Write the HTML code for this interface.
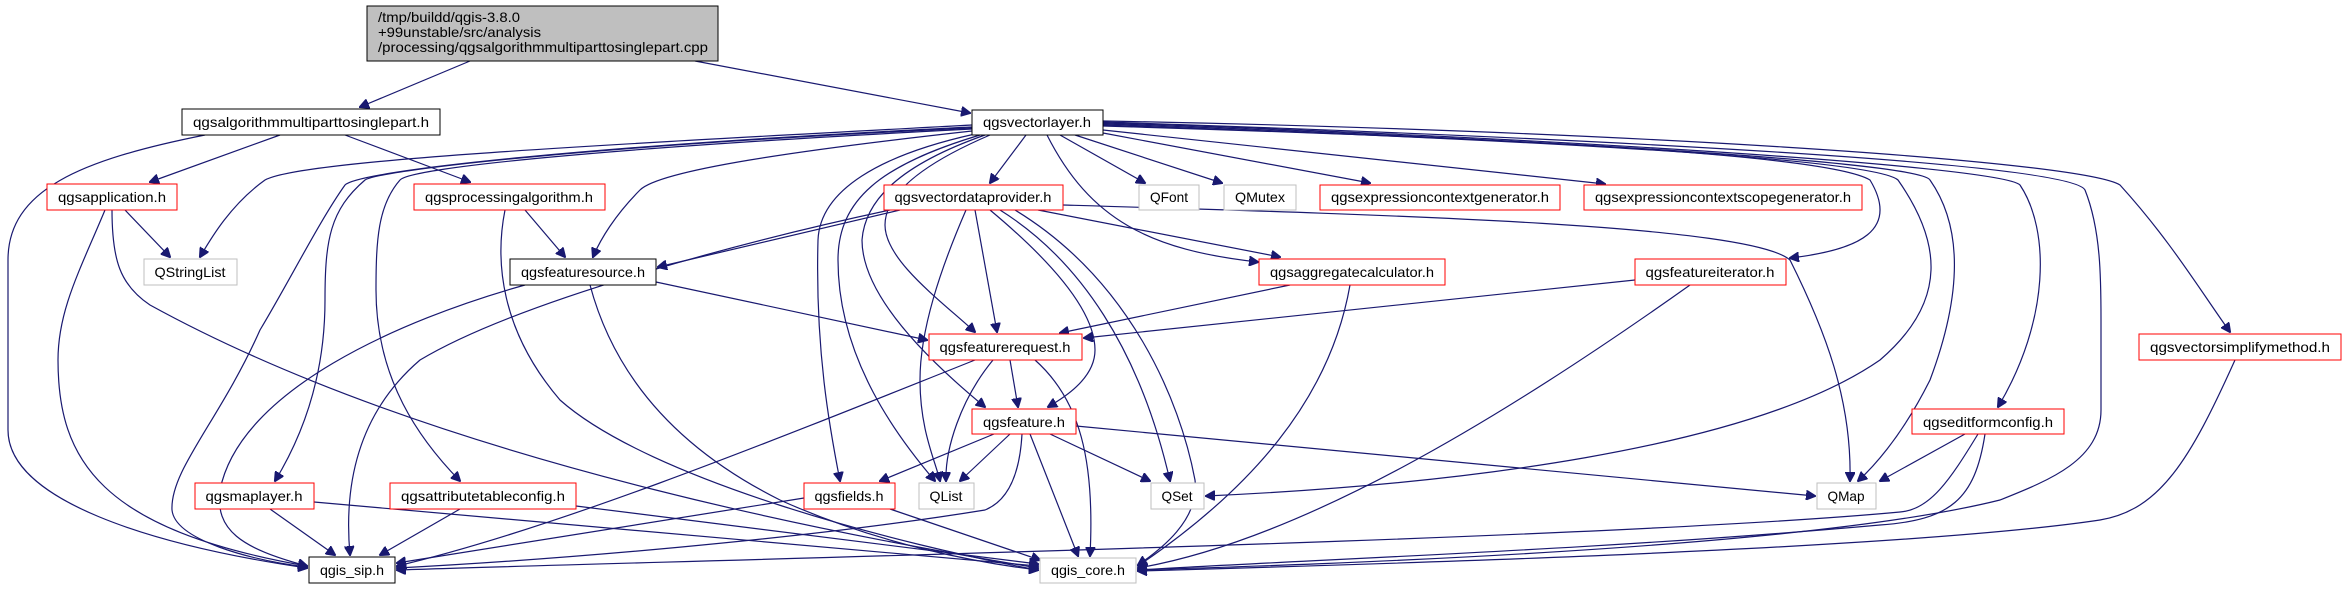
<!DOCTYPE html>
<html><head><meta charset="utf-8"><style>
html,body{margin:0;padding:0;background:#fff;}
svg{display:block}
text{font-family:"Liberation Sans",sans-serif;font-size:14px;fill:#000}
path{fill:none;stroke:#191970;stroke-width:1.2}
</style></head><body>
<svg width="2346" height="589" viewBox="0 0 2346 589" xmlns="http://www.w3.org/2000/svg">
<defs><marker id="a" viewBox="0 0 10 10" refX="9" refY="5" markerWidth="10" markerHeight="10" markerUnits="userSpaceOnUse" orient="auto"><path d="M0,0 L10,5 L0,10 z" style="fill:#191970;stroke:#191970"/></marker></defs>
<g marker-end="url(#a)">
<path d="M470,61 L360,107"/>
<path d="M695,61 L970,113"/>
<path d="M205,135 C80,160 8,190 8,260 L8,430 C8,500 150,545 307,568"/>
<path d="M280,135 L150,182"/>
<path d="M345,135 L470,182"/>
<path d="M125,210 L170,257"/>
<path d="M105,210 C80,270 58,310 58,360 C58,460 100,530 307,566"/>
<path d="M112,210 C112,260 120,285 150,305 C450,470 900,545 1038,568"/>
<path d="M525,210 L565,257"/>
<path d="M505,210 C495,260 500,330 560,400 C650,480 900,545 1038,570"/>
<path d="M525,285 C400,320 240,390 220,490 C215,530 240,548 307,566"/>
<path d="M590,285 C610,360 660,440 780,500 C880,545 980,563 1038,570"/>
<path d="M656,282 L927,340"/>
<path d="M972,125 C600,145 300,160 265,180 C230,205 210,240 200,257"/>
<path d="M972,127 C600,145 360,170 345,185 C320,220 290,280 260,330 C220,420 170,470 172,510 C175,540 250,560 307,567"/>
<path d="M972,128 C600,145 380,170 365,180 C330,210 325,240 325,300 C325,380 300,440 275,481"/>
<path d="M972,129 C600,148 410,168 400,180 C378,205 376,240 376,290 C376,380 420,440 460,481"/>
<path d="M972,131 C800,150 660,170 640,190 C615,215 600,240 593,257"/>
<path d="M975,134 C880,155 820,190 818,240 C815,350 830,430 840,481"/>
<path d="M980,135 C880,165 838,200 838,260 C838,360 900,440 935,481"/>
<path d="M985,135 C900,165 865,200 862,240 C862,300 940,370 985,407"/>
<path d="M990,135 C920,165 885,195 885,225 C885,260 940,300 975,332"/>
<path d="M1026,135 L990,183"/>
<path d="M1047,135 C1090,220 1150,250 1258,262"/>
<path d="M1060,135 L1145,183"/>
<path d="M1075,135 L1222,183"/>
<path d="M1103,133 L1370,183"/>
<path d="M1103,130 L1605,184"/>
<path d="M1103,126 C1400,135 1820,150 1870,180 C1900,230 1860,250 1790,258"/>
<path d="M1103,125 C1400,135 1870,155 1898,180 C1940,240 1950,300 1880,360 C1750,450 1450,485 1206,496"/>
<path d="M1103,124 C1450,135 1920,160 1930,180 C1965,230 1960,300 1930,380 C1900,440 1870,470 1858,481"/>
<path d="M1103,123 C1500,135 2000,165 2020,185 C2050,230 2050,320 1998,407"/>
<path d="M1103,122 C1500,135 2070,160 2085,190 C2101,230 2101,280 2101,320 L2101,410 C2101,460 2050,480 2000,500 C1800,550 1300,565 1138,570"/>
<path d="M1103,121 C1600,130 2080,160 2120,185 C2170,240 2200,290 2230,332"/>
<path d="M900,210 L658,267"/>
<path d="M890,210 C750,240 520,300 420,360 C350,420 345,500 350,555"/>
<path d="M966,210 C940,270 920,330 920,380 C920,430 935,460 940,481"/>
<path d="M975,210 L997,332"/>
<path d="M990,210 C1050,260 1095,310 1095,350 C1095,380 1060,400 1048,407"/>
<path d="M1000,210 C1080,260 1140,350 1170,481"/>
<path d="M1015,210 C1130,280 1180,400 1195,480 C1200,520 1160,550 1138,565"/>
<path d="M1038,210 L1280,257"/>
<path d="M1063,205 C1400,215 1750,225 1790,260 C1825,330 1852,400 1850,481"/>
<path d="M1290,285 L1060,333"/>
<path d="M1350,285 C1330,400 1250,490 1138,566"/>
<path d="M1635,280 L1084,338"/>
<path d="M1690,285 C1500,420 1300,540 1138,568"/>
<path d="M1010,360 L1018,407"/>
<path d="M993,360 C960,400 945,450 946,481"/>
<path d="M1035,360 C1080,400 1095,460 1090,556"/>
<path d="M975,360 C750,450 550,530 397,566"/>
<path d="M994,434 L880,481"/>
<path d="M1010,434 L960,481"/>
<path d="M1050,434 L1150,481"/>
<path d="M1076,426 L1815,496"/>
<path d="M1030,434 L1078,556"/>
<path d="M1022,434 C1020,470 1010,500 985,510 C800,540 550,560 397,568"/>
<path d="M804,498 L397,563"/>
<path d="M890,509 L1040,560"/>
<path d="M270,509 L335,555"/>
<path d="M314,502 L1038,566"/>
<path d="M460,509 L380,555"/>
<path d="M576,506 L1038,564"/>
<path d="M1965,434 L1880,481"/>
<path d="M1978,434 C1950,480 1930,510 1900,512 C1600,540 700,560 397,570"/>
<path d="M1985,434 C1975,500 1950,520 1880,525 C1600,550 1300,560 1138,570"/>
<path d="M2235,360 C2190,460 2160,510 2100,520 C1900,550 1350,565 1138,571"/>
</g>
<g>
<rect x="367" y="6" width="351" height="55" fill="#bfbfbf" stroke="#000"/>
<text x="378" y="22" textLength="142" lengthAdjust="spacingAndGlyphs">/tmp/buildd/qgis-3.8.0</text>
<text x="378" y="37" textLength="163" lengthAdjust="spacingAndGlyphs">+99unstable/src/analysis</text>
<text x="378" y="52" textLength="330" lengthAdjust="spacingAndGlyphs">/processing/qgsalgorithmmultiparttosinglepart.cpp</text>
</g>
<g fill="#fff" stroke-width="1">
<rect x="182" y="109" width="258" height="26" stroke="#000"/>
<rect x="972" y="110" width="131" height="25" stroke="#000"/>
<rect x="47" y="184" width="130" height="26" stroke="#f00"/>
<rect x="414" y="184" width="191" height="26" stroke="#f00"/>
<rect x="144" y="259" width="93" height="26" stroke="#bfbfbf"/>
<rect x="510" y="259" width="146" height="26" stroke="#000"/>
<rect x="884" y="185" width="179" height="25" stroke="#f00"/>
<rect x="1139" y="185" width="60" height="25" stroke="#bfbfbf"/>
<rect x="1224" y="185" width="72" height="25" stroke="#bfbfbf"/>
<rect x="1320" y="185" width="240" height="25" stroke="#f00"/>
<rect x="1584" y="185" width="278" height="25" stroke="#f00"/>
<rect x="1259" y="259" width="186" height="26" stroke="#f00"/>
<rect x="1635" y="259" width="151" height="26" stroke="#f00"/>
<rect x="929" y="334" width="153" height="26" stroke="#f00"/>
<rect x="2139" y="334" width="202" height="26" stroke="#f00"/>
<rect x="972" y="409" width="104" height="25" stroke="#f00"/>
<rect x="1912" y="409" width="152" height="25" stroke="#f00"/>
<rect x="195" y="483" width="119" height="26" stroke="#f00"/>
<rect x="390" y="483" width="186" height="26" stroke="#f00"/>
<rect x="804" y="483" width="91" height="26" stroke="#f00"/>
<rect x="919" y="483" width="55" height="26" stroke="#bfbfbf"/>
<rect x="1151" y="483" width="53" height="26" stroke="#bfbfbf"/>
<rect x="1817" y="483" width="59" height="26" stroke="#bfbfbf"/>
<rect x="309" y="557" width="86" height="26" stroke="#000"/>
<rect x="1040" y="558" width="96" height="25" stroke="#bfbfbf"/>
</g>
<g text-anchor="middle">
<text x="311" y="127" textLength="236" lengthAdjust="spacingAndGlyphs">qgsalgorithmmultiparttosinglepart.h</text>
<text x="1037" y="127" textLength="108" lengthAdjust="spacingAndGlyphs">qgsvectorlayer.h</text>
<text x="112" y="202" textLength="108" lengthAdjust="spacingAndGlyphs">qgsapplication.h</text>
<text x="509" y="202" textLength="168" lengthAdjust="spacingAndGlyphs">qgsprocessingalgorithm.h</text>
<text x="190" y="277" textLength="71" lengthAdjust="spacingAndGlyphs">QStringList</text>
<text x="583" y="277" textLength="124" lengthAdjust="spacingAndGlyphs">qgsfeaturesource.h</text>
<text x="973" y="202" textLength="157" lengthAdjust="spacingAndGlyphs">qgsvectordataprovider.h</text>
<text x="1169" y="202" textLength="38" lengthAdjust="spacingAndGlyphs">QFont</text>
<text x="1260" y="202" textLength="50" lengthAdjust="spacingAndGlyphs">QMutex</text>
<text x="1440" y="202" textLength="218" lengthAdjust="spacingAndGlyphs">qgsexpressioncontextgenerator.h</text>
<text x="1723" y="202" textLength="256" lengthAdjust="spacingAndGlyphs">qgsexpressioncontextscopegenerator.h</text>
<text x="1352" y="277" textLength="164" lengthAdjust="spacingAndGlyphs">qgsaggregatecalculator.h</text>
<text x="1710" y="277" textLength="129" lengthAdjust="spacingAndGlyphs">qgsfeatureiterator.h</text>
<text x="1005" y="352" textLength="131" lengthAdjust="spacingAndGlyphs">qgsfeaturerequest.h</text>
<text x="2240" y="352" textLength="180" lengthAdjust="spacingAndGlyphs">qgsvectorsimplifymethod.h</text>
<text x="1024" y="427" textLength="82" lengthAdjust="spacingAndGlyphs">qgsfeature.h</text>
<text x="1988" y="427" textLength="130" lengthAdjust="spacingAndGlyphs">qgseditformconfig.h</text>
<text x="254" y="501" textLength="97" lengthAdjust="spacingAndGlyphs">qgsmaplayer.h</text>
<text x="483" y="501" textLength="164" lengthAdjust="spacingAndGlyphs">qgsattributetableconfig.h</text>
<text x="849" y="501" textLength="69" lengthAdjust="spacingAndGlyphs">qgsfields.h</text>
<text x="946" y="501" textLength="33" lengthAdjust="spacingAndGlyphs">QList</text>
<text x="1177" y="501" textLength="31" lengthAdjust="spacingAndGlyphs">QSet</text>
<text x="1846" y="501" textLength="37" lengthAdjust="spacingAndGlyphs">QMap</text>
<text x="352" y="575" textLength="64" lengthAdjust="spacingAndGlyphs">qgis_sip.h</text>
<text x="1088" y="575" textLength="74" lengthAdjust="spacingAndGlyphs">qgis_core.h</text>
</g>
</svg>
</body></html>
